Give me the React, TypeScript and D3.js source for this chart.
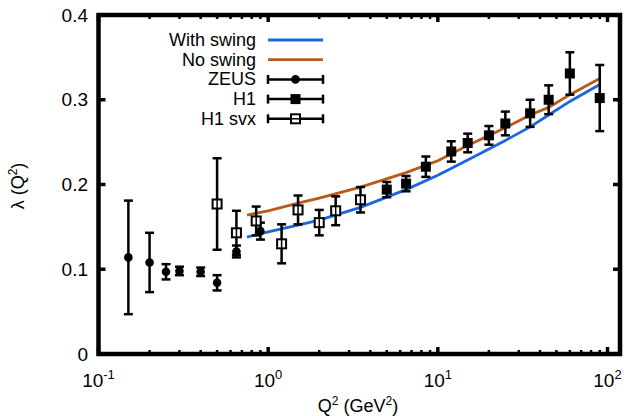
import * as d3 from 'd3'

// curves
const curveQ = [0.75, 1, 1.5, 2, 3.5, 6.5, 10, 15, 25, 35, 45, 60, 90]
const withSwing = [0.138, 0.144, 0.152, 0.158, 0.173, 0.194, 0.211, 0.229, 0.252, 0.268, 0.282, 0.298, 0.318]
const noSwing = [0.164, 0.169, 0.178, 0.184, 0.197, 0.214, 0.228, 0.246, 0.267, 0.282, 0.291, 0.306, 0.325]

// ZEUS
const zeusQ = [0.15, 0.2, 0.25, 0.3, 0.4, 0.5, 0.65, 0.9]
const zeusV = [0.114, 0.108, 0.097, 0.098, 0.097, 0.084, 0.121, 0.145]
const zeusE = [0.067, 0.035, 0.009, 0.005, 0.005, 0.009, 0.007, 0.01]

// H1
const h1Q = [5, 6.5, 8.5, 12, 15, 20, 25, 35, 45, 60, 90]
const h1V = [0.194, 0.201, 0.221, 0.239, 0.249, 0.258, 0.272, 0.284, 0.3, 0.331, 0.302]
const h1E = [0.009, 0.009, 0.012, 0.012, 0.011, 0.011, 0.014, 0.016, 0.017, 0.025, 0.039]

// H1 svx
const svxQ = [0.5, 0.65, 0.85, 1.2, 1.5, 2, 2.5, 3.5]
const svxV = [0.177, 0.143, 0.157, 0.13, 0.17, 0.155, 0.169, 0.182]
const svxE = [0.054, 0.026, 0.017, 0.023, 0.017, 0.015, 0.017, 0.015]

const yTicks = [0, 0.1, 0.2, 0.3, 0.4]
const xTicks = [0.1, 1, 10, 100]
const xTickExp = ['-1', '0', '1', '2']

const BLUE = '#1a66e0'
const ORANGE = '#b85a1a'
const FONT = 'Liberation Sans, Arial, sans-serif'

export default function App() {
  const left = 98.5,
    right = 620,
    top = 15,
    bottom = 354

  const x = d3.scaleLog().domain([0.1, 118.5]).range([left, right])
  const y = d3.scaleLinear().domain([0, 0.4]).range([bottom, top])

  const minor: number[] = []
  for (const dec of [0.1, 1, 10]) for (let k = 2; k <= 9; k++) minor.push(dec * k)
  const minorIn = minor.filter((m) => x(m) < right - 2)

  const line = d3
    .line<number>()
    .x((_, i) => x(curveQ[i]))
    .y((d) => y(d))

  const errBar = (xq: number, v: number, e: number, key: string) => (
    <g key={key} stroke="#000" strokeWidth={2.5}>
      <line x1={x(xq)} x2={x(xq)} y1={y(v - e)} y2={y(v + e)} />
      <line x1={x(xq) - 4.5} x2={x(xq) + 4.5} y1={y(v - e)} y2={y(v - e)} />
      <line x1={x(xq) - 4.5} x2={x(xq) + 4.5} y1={y(v + e)} y2={y(v + e)} />
    </g>
  )

  const legRows = ['With swing', 'No swing', 'ZEUS', 'H1', 'H1 svx']
  const legX0 = 268,
    legX1 = 323,
    legY0 = 40,
    legDy = 19.7

  return (
    <svg width={624} height={416} style={{ position: 'absolute', left: 0, top: 0 }} fontFamily={FONT}>
      <rect width={624} height={416} fill="#fff" />

      {/* curves */}
      <path d={line(noSwing) ?? ''} fill="none" stroke={ORANGE} strokeWidth={2.8} />
      <path d={line(withSwing) ?? ''} fill="none" stroke={BLUE} strokeWidth={2.8} />

      {/* ZEUS */}
      {zeusQ.map((q, i) => (
        <g key={'z' + i}>
          {errBar(q, zeusV[i], zeusE[i], 'ze' + i)}
          <circle cx={x(q)} cy={y(zeusV[i])} r={4.3} fill="#000" />
        </g>
      ))}

      {/* H1 svx */}
      {svxQ.map((q, i) => (
        <g key={'s' + i}>
          {errBar(q, svxV[i], svxE[i], 'se' + i)}
          <rect x={x(q) - 4.5} y={y(svxV[i]) - 4.5} width={9} height={9} fill="#fff" stroke="#000" strokeWidth={2} />
          <line x1={x(q)} x2={x(q)} y1={y(svxV[i]) - 4.5} y2={y(svxV[i]) + 4.5} stroke="#000" strokeWidth={1.5} />
        </g>
      ))}

      {/* H1 */}
      {h1Q.map((q, i) => (
        <g key={'h' + i}>
          {errBar(q, h1V[i], h1E[i], 'he' + i)}
          <rect x={x(q) - 5} y={y(h1V[i]) - 5} width={10} height={10} fill="#000" />
        </g>
      ))}

      {/* legend */}
      {legRows.map((t, i) => (
        <text key={t} x={256} y={legY0 + i * legDy + 6} textAnchor="end" fontSize={18}>
          {t}
        </text>
      ))}
      <line x1={legX0} x2={legX1} y1={legY0} y2={legY0} stroke={BLUE} strokeWidth={2.8} />
      <line x1={legX0} x2={legX1} y1={legY0 + legDy} y2={legY0 + legDy} stroke={ORANGE} strokeWidth={2.8} />
      {[2, 3, 4].map((r) => {
        const ly = legY0 + r * legDy
        const mx = (legX0 + legX1) / 2
        return (
          <g key={'lg' + r}>
            <g stroke="#000" strokeWidth={2.5}>
              <line x1={legX0} x2={legX1} y1={ly} y2={ly} />
              <line x1={legX0} x2={legX0} y1={ly - 4.5} y2={ly + 4.5} />
              <line x1={legX1} x2={legX1} y1={ly - 4.5} y2={ly + 4.5} />
            </g>
            {r === 2 && <circle cx={mx} cy={ly} r={4.3} fill="#000" />}
            {r === 3 && <rect x={mx - 5} y={ly - 5} width={10} height={10} fill="#000" />}
            {r === 4 && (
              <rect x={mx - 4.5} y={ly - 4.5} width={9} height={9} fill="#fff" stroke="#000" strokeWidth={2} />
            )}
            {r === 4 && <line x1={mx - 4.5} x2={mx + 4.5} y1={ly} y2={ly} stroke="#000" strokeWidth={1.5} />}
          </g>
        )
      })}

      {/* ticks */}
      <g stroke="#000">
        {yTicks.map((t) => (
          <g key={'yt' + t} strokeWidth={3.5}>
            <line x1={left} x2={left + 7} y1={y(t)} y2={y(t)} />
            <line x1={right} x2={right - 7} y1={y(t)} y2={y(t)} />
          </g>
        ))}
        {xTicks.map((t) => (
          <g key={'xt' + t} strokeWidth={3.5}>
            <line x1={x(t)} x2={x(t)} y1={bottom} y2={bottom - 7} />
            <line x1={x(t)} x2={x(t)} y1={top} y2={top + 7} />
          </g>
        ))}
        {minorIn.map((t) => (
          <g key={'mt' + t} strokeWidth={2.5}>
            <line x1={x(t)} x2={x(t)} y1={bottom} y2={bottom - 4} />
            <line x1={x(t)} x2={x(t)} y1={top} y2={top + 4} />
          </g>
        ))}
      </g>

      {/* frame */}
      <rect x={left} y={top} width={right - left} height={bottom - top} fill="none" stroke="#000" strokeWidth={4.5} />

      {/* tick labels */}
      {yTicks.map((t) => (
        <text key={'yl' + t} x={88} y={y(t) + 6.5} textAnchor="end" fontSize={19}>
          {t === 0 ? '0' : d3.format('.1f')(t)}
        </text>
      ))}
      {xTicks.map((t, i) => (
        <text key={'xl' + t} x={x(t)} y={387} textAnchor="middle" fontSize={19}>
          10
          <tspan fontSize={13} dy={-8}>
            {xTickExp[i]}
          </tspan>
        </text>
      ))}

      {/* axis titles */}
      <text x={358} y={412} textAnchor="middle" fontSize={18}>
        Q
        <tspan fontSize={12} dy={-7}>
          2
        </tspan>
        <tspan dy={7}> (GeV</tspan>
        <tspan fontSize={12} dy={-7}>
          2
        </tspan>
        <tspan dy={7}>)</tspan>
      </text>
      <text transform="translate(24,186) rotate(-90)" textAnchor="middle" fontSize={18}>
        λ (Q
        <tspan fontSize={12} dy={-7}>
          2
        </tspan>
        <tspan dy={7}>)</tspan>
      </text>
    </svg>
  )
}
